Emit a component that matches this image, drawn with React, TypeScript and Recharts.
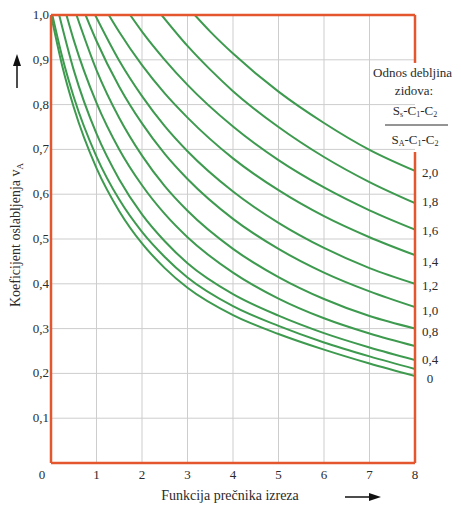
import React from "react";
import {
  LineChart,
  Line,
  XAxis,
  YAxis,
  CartesianGrid,
  ReferenceLine,
  LabelList,
} from "recharts";

// wall thickness ratio curves, x = function of opening diameter, v = weakening coefficient
const ratio00X = [0, 0.25, 0.5, 1, 1.5, 2, 2.5, 3, 4, 5, 6, 7, 8];
const ratio00V = [1, 0.885, 0.794, 0.658, 0.562, 0.49, 0.435, 0.391, 0.33, 0.288, 0.253, 0.222, 0.194];
const ratio02X = [0.03, 0.25, 0.5, 1, 1.5, 2, 2.5, 3, 4, 5, 6, 7, 8];
const ratio02V = [1, 0.905, 0.817, 0.684, 0.588, 0.516, 0.46, 0.414, 0.35, 0.306, 0.269, 0.238, 0.21];
const ratio04X = [0.18, 0.5, 1, 1.5, 2, 2.5, 3, 4, 5, 6, 7, 8];
const ratio04V = [1, 0.877, 0.735, 0.633, 0.555, 0.495, 0.446, 0.377, 0.329, 0.29, 0.258, 0.23];
const ratio06X = [0.34, 0.5, 1, 1.5, 2, 2.5, 3, 4, 5, 6, 7, 8];
const ratio06V = [1, 0.944, 0.804, 0.7, 0.62, 0.556, 0.504, 0.425, 0.367, 0.323, 0.289, 0.261];
const ratio08X = [0.56, 1, 1.5, 2, 2.5, 3, 4, 5, 6, 7, 8];
const ratio08V = [1, 0.877, 0.77, 0.686, 0.618, 0.563, 0.478, 0.415, 0.366, 0.328, 0.3];
const ratio10X = [0.76, 1, 1.5, 2, 2.5, 3, 4, 5, 6, 7, 8];
const ratio10V = [1, 0.942, 0.84, 0.758, 0.69, 0.634, 0.545, 0.478, 0.425, 0.383, 0.348];
const ratio12X = [0.97, 1.5, 2, 2.5, 3, 4, 5, 6, 7, 8];
const ratio12V = [1, 0.898, 0.819, 0.752, 0.696, 0.606, 0.536, 0.48, 0.435, 0.4];
const ratio14X = [1.27, 1.5, 2, 2.5, 3, 4, 5, 6, 7, 8];
const ratio14V = [1, 0.962, 0.888, 0.825, 0.771, 0.68, 0.609, 0.551, 0.504, 0.464];
const ratio16X = [1.74, 2, 2.5, 3, 4, 5, 6, 7, 8];
const ratio16V = [1, 0.963, 0.9, 0.844, 0.751, 0.676, 0.615, 0.564, 0.521];
const ratio18X = [2.43, 3, 3.5, 4, 5, 6, 7, 8];
const ratio18V = [1, 0.931, 0.878, 0.83, 0.75, 0.683, 0.627, 0.58];
const ratio20X = [3.16, 3.5, 4, 5, 6, 7, 8];
const ratio20V = [1, 0.963, 0.914, 0.829, 0.759, 0.699, 0.652];

const curveNames = ["0", "0,2", "0,4", "0,6", "0,8", "1,0", "1,2", "1,4", "1,6", "1,8", "2,0"];
const curveXs = [ratio00X, ratio02X, ratio04X, ratio06X, ratio08X, ratio10X, ratio12X, ratio14X, ratio16X, ratio18X, ratio20X];
const curveVs = [ratio00V, ratio02V, ratio04V, ratio06V, ratio08V, ratio10V, ratio12V, ratio14V, ratio16V, ratio18V, ratio20V];
const shownLabels = ["0", "0,4", "0,8", "1,0", "1,2", "1,4", "1,6", "1,8", "2,0"];

const xTicks = [0, 1, 2, 3, 4, 5, 6, 7, 8];
const yTicks = [0, 0.1, 0.2, 0.3, 0.4, 0.5, 0.6, 0.7, 0.8, 0.9, 1];

// small vertical nudges so end labels sit like in the print
const labelDy: Record<string, number> = {
  "0": 3, "0,4": 0, "0,8": 3, "1,0": 4, "1,2": 2, "1,4": 7, "1,6": 1, "1,8": -1, "2,0": 2,
};

const serif = '"Liberation Serif", "DejaVu Serif", serif';
const textColor = "#2b2b2b";
const green = "#3d9a4e";
const red = "#e4572e";

const series = curveNames.map((name, i) => ({
  name,
  data: curveXs[i].map((x, j) => ({ x, v: curveVs[i][j] })),
}));

const comma = (v: number) => v.toFixed(1).replace(".", ",");

const XTick = (props: any) => {
  const { x, y, payload } = props;
  const dx = payload.value === 0 ? -9 : 0;
  return (
    <text x={x + dx} y={y + 12} textAnchor="middle" fontFamily={serif} fontSize={13} fill={textColor}>
      {payload.value}
    </text>
  );
};

const YTick = (props: any) => {
  const { x, y, payload } = props;
  if (payload.value === 0) return null;
  return (
    <text x={x} y={y + 4} textAnchor="end" fontFamily={serif} fontSize={13} fill={textColor}>
      {comma(payload.value)}
    </text>
  );
};

const endLabel = (name: string, last: number) => (props: any) => {
  if (props.index !== last || !shownLabels.includes(name)) return null;
  return (
    <text
      x={props.x + 15}
      y={props.y + 4 + (labelDy[name] || 0)}
      textAnchor="middle"
      fontFamily={serif}
      fontSize={13}
      fill={textColor}
    >
      {name}
    </text>
  );
};

export default function App() {
  return (
    <div style={{ position: "absolute", left: 0, top: 0, width: 461, height: 508, background: "#fff" }}>
      <LineChart width={461} height={508} margin={{ top: 15, right: 46, bottom: 0, left: 0 }}>
        <CartesianGrid
          stroke="#cdcdcd"
          strokeWidth={1}
          verticalValues={[1, 2, 3, 4, 5, 6, 7]}
          horizontalValues={[0.1, 0.2, 0.3, 0.4, 0.5, 0.6, 0.7, 0.8, 0.9]}
        />
        <XAxis
          type="number"
          dataKey="x"
          domain={[0, 8]}
          ticks={xTicks}
          height={45}
          axisLine={false}
          tickLine={false}
          tickSize={0}
          tickMargin={4}
          tick={<XTick />}
          allowDataOverflow
        />
        <YAxis
          type="number"
          domain={[0, 1]}
          ticks={yTicks}
          width={51}
          axisLine={false}
          tickLine={false}
          tickSize={0}
          tickMargin={2}
          tick={<YTick />}
          allowDataOverflow
        />
        {series.map((s) => (
          <Line
            key={s.name}
            data={s.data}
            dataKey="v"
            type="monotone"
            stroke={green}
            strokeWidth={2}
            dot={false}
            isAnimationActive={false}
          >
            <LabelList dataKey="v" content={endLabel(s.name, s.data.length - 1)} />
          </Line>
        ))}
        <ReferenceLine y={1} stroke={red} strokeWidth={2.5} ifOverflow="visible" />
        <ReferenceLine y={0} stroke={red} strokeWidth={2.5} ifOverflow="visible" />
        <ReferenceLine x={0} stroke={red} strokeWidth={2.5} ifOverflow="visible" />
        <ReferenceLine
          segment={[{ x: 8, y: 1 }, { x: 8, y: 0.893 }]}
          stroke={red}
          strokeWidth={2.5}
          ifOverflow="visible"
        />
        <ReferenceLine
          segment={[{ x: 8, y: 0.694 }, { x: 8, y: 0 }]}
          stroke={red}
          strokeWidth={2.5}
          ifOverflow="visible"
        />
      </LineChart>
      <svg
        width={461}
        height={508}
        style={{ position: "absolute", left: 0, top: 0, pointerEvents: "none" }}
      >
        <g fontFamily={serif} fill={textColor}>
          <text x={20} y={235} fontSize={14} textAnchor="middle" transform="rotate(-90 20 235)">
            Koeficijent oslabljenja v<tspan fontSize={9} dy={3}>A</tspan>
          </text>
          <text x={230} y={500} fontSize={14} textAnchor="middle">
            Funkcija prečnika izreza
          </text>
          <text x={373} y={77} fontSize={13}>Odnos debljina</text>
          <text x={414} y={95} fontSize={13} textAnchor="middle">zidova:</text>
          <text x={415} y={115} fontSize={13} textAnchor="middle">
            S<tspan fontSize={8} dy={2}>s</tspan>
            <tspan dy={-2}>-C</tspan>
            <tspan fontSize={8} dy={2}>1</tspan>
            <tspan dy={-2}>-C</tspan>
            <tspan fontSize={8} dy={2}>2</tspan>
          </text>
          <text x={415} y={144} fontSize={13} textAnchor="middle">
            S<tspan fontSize={8} dy={2}>A</tspan>
            <tspan dy={-2}>-C</tspan>
            <tspan fontSize={8} dy={2}>1</tspan>
            <tspan dy={-2}>-C</tspan>
            <tspan fontSize={8} dy={2}>2</tspan>
          </text>
        </g>
        <line x1={385} y1={125} x2={448} y2={125} stroke={textColor} strokeWidth={1} />
        <line x1={17} y1={88} x2={17} y2={62} stroke="#111" strokeWidth={1.5} />
        <polygon points="17,54 13,66 21,66" fill="#111" />
        <line x1={345} y1={497} x2={372} y2={497} stroke="#111" strokeWidth={1.5} />
        <polygon points="381,497 369,493 369,501" fill="#111" />
      </svg>
    </div>
  );
}
